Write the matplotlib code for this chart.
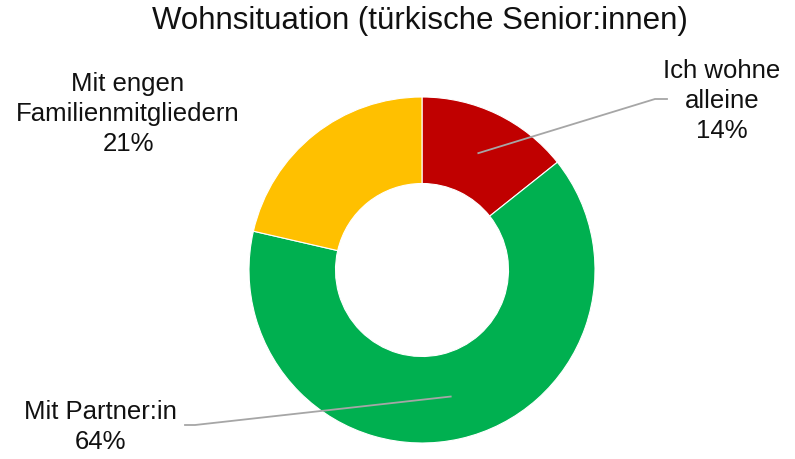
import numpy as np
import matplotlib.pyplot as plt

plt.rcParams['font.family'] = ['Liberation Sans', 'DejaVu Sans']

# data
categories = ["Ich wohne\nalleine", "Mit Partner:in", "Mit engen\nFamilienmitgliedern"]
values = [14.3, 64.3, 21.4]
colors = ['#C00000', '#00B050', '#FFC000']

W, H = 795, 460
fig = plt.figure(figsize=(W / 100, H / 100), dpi=100)
ax = fig.add_axes([0, 0, 1, 1])
ax.set_aspect('equal')

cx, cy = 422, H - 271
r_out = 173
ring = 0.5

wedges, _ = ax.pie(values, colors=colors, startangle=90, counterclock=False,
                   center=(cx, cy), radius=r_out, frame=True,
                   wedgeprops=dict(width=r_out * ring, edgecolor='white', linewidth=0.8))
ax.set_xlim(0, W)
ax.set_ylim(0, H)
ax.axis('off')

fig.text(0.528, 1 - 21 / H, "Wohnsituation (türkische Senior:innen)",
         ha='center', va='center', fontsize=22.5, color='#111111')

labels = [f"{c}\n{round(v)}%" for c, v in zip(categories, values)]
r_mid = r_out * (1 - ring / 2)

def anchor(w):
    a = np.deg2rad((w.theta1 + w.theta2) / 2)
    return cx + r_mid * np.cos(a), cy + r_mid * np.sin(a)

line_kw = dict(color='#A6A6A6', lw=1.3)
txt_kw = dict(ha='center', va='center', fontsize=18.5, color='#111111', linespacing=1.32)

# red slice
ax0, ay0 = anchor(wedges[0])
ax.plot([ax0, 655, 667], [ay0, H - 100, H - 100], **line_kw)
ax.text(722, H - 101, labels[0], **txt_kw)

# green slice
ax1, ay1 = anchor(wedges[1])
ax.plot([ax1, 195, 185], [ay1, H - 426, H - 426], **line_kw)
ax.text(100, H - 427, labels[1], **txt_kw)

# yellow slice
ax.text(128, H - 114, labels[2], **txt_kw)

fig.savefig('out.png', dpi=100, facecolor='white')
